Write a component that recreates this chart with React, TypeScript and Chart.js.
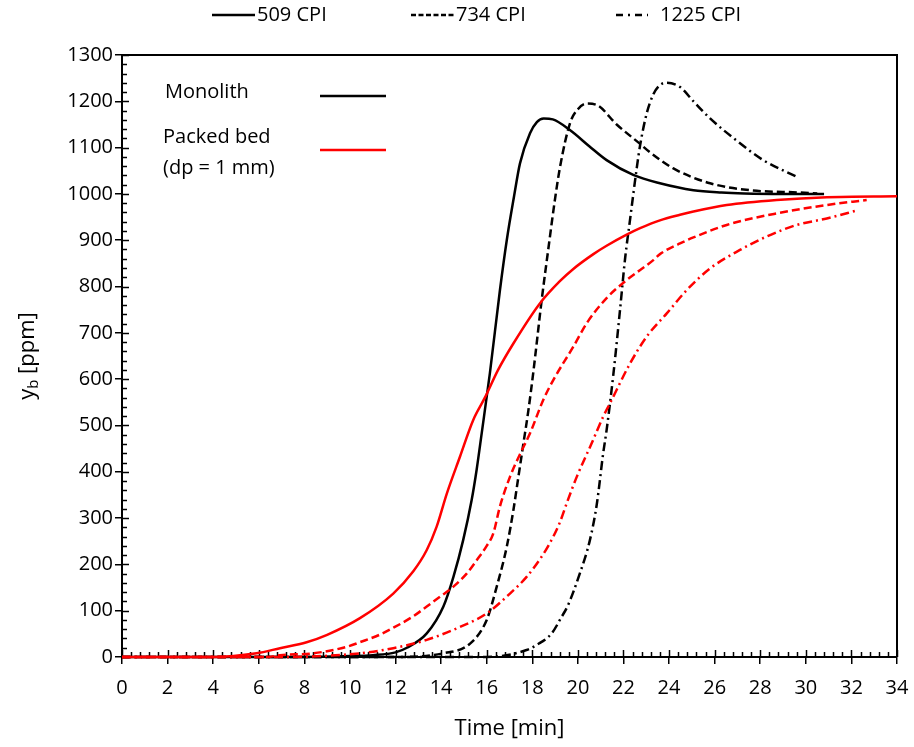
import React, { useEffect, useRef } from "react";
import { Chart, registerables } from "chart.js";

Chart.register(...registerables);

// ---- labels ----
const seriesLabels = ["509 CPI", "734 CPI", "1225 CPI"];
const bedLabels = ["Monolith", "Packed bed", "(dp = 1 mm)"];
const xTitle = "Time [min]";
const yTitleMain = "y";
const yTitleSub = "b";
const yTitleRest = " [ppm]";

// ---- axis ranges ----
const xMin = 0, xMax = 34, xStep = 2, xMinor = 0.4;
const yMin = 0, yMax = 1300, yStep = 100, yMinor = 20;

// ---- Monolith (black) ----
const mono509T = [0, 8, 10, 11, 12, 12.5, 13.37, 14.1, 14.54, 14.97, 15.34, 15.56, 15.78, 16.14, 16.58, 16.88, 17.2, 17.46, 17.9, 18.2, 18.5, 18.9, 19.65, 20.5, 21.26, 22.43, 23.6, 25.07, 26.3, 27.3, 29, 30.8];
const mono509Y = [0, 0, 2, 4, 10, 20, 51, 109, 173, 253, 339, 405, 483, 613, 792, 900, 995, 1066, 1131, 1155, 1163, 1161, 1138, 1103, 1073, 1041, 1023, 1008, 1003, 1001, 1000, 1000];

const mono734T = [0, 12, 14.1, 15.27, 16.0, 16.44, 16.88, 17.17, 17.39, 17.61, 17.83, 18.04, 18.41, 18.7, 19.0, 19.22, 19.65, 20.0, 20.39, 20.83, 21.7, 22.73, 23.16, 24.19, 25.8, 27.55, 29.75, 30.5];
const mono734Y = [0, 0, 8, 29, 80, 152, 238, 317, 389, 461, 533, 613, 770, 880, 990, 1059, 1152, 1183, 1195, 1192, 1150, 1108, 1090, 1055, 1023, 1008, 1003, 1001];

const mono1225T = [0, 16, 17.75, 18.19, 18.85, 19.29, 19.55, 20.09, 20.53, 20.83, 21.11, 21.26, 21.56, 21.85, 22.07, 22.29, 22.58, 22.73, 23.02, 23.31, 23.6, 23.9, 24.48, 25.07, 25.8, 26.97, 28.13, 29.6];
const mono1225Y = [0, 0, 15, 26, 51, 87, 110, 181, 253, 330, 440, 490, 612, 750, 860, 945, 1055, 1105, 1174, 1215, 1235, 1240, 1231, 1200, 1163, 1115, 1073, 1037];

// ---- Packed bed (red) ----
const bed509T = [0, 4, 5.9, 6.93, 8.1, 9.0, 10.44, 11.9, 12.78, 13.37, 13.8, 14.25, 14.83, 15.41, 15.92, 16.5, 17.17, 18.34, 19.22, 19.8, 20.68, 21.26, 22.14, 22.73, 23.6, 24.48, 25.07, 26.53, 28.72, 30.92, 34];
const bed509Y = [0, 0, 8, 19, 32, 48, 84, 137, 185, 231, 281, 353, 433, 512, 560, 620, 677, 764, 812, 838, 870, 888, 912, 926, 943, 955, 962, 976, 987, 993, 995];

const bed734T = [0, 6.35, 6.93, 8.4, 9.86, 10.44, 11.3, 11.9, 12.78, 13.37, 13.95, 14.54, 15.12, 15.56, 16.0, 16.29, 16.58, 17.02, 17.46, 17.9, 18.48, 18.92, 19.8, 20.39, 21.26, 22.14, 23.31, 23.6, 24.48, 25.07, 26.53, 28.72, 30.92, 32.67];
const bed734Y = [0, 0, 4, 8, 22, 32, 48, 63, 88, 109, 130, 152, 180, 209, 240, 267, 325, 389, 438, 483, 555, 598, 670, 721, 775, 814, 857, 870, 893, 906, 933, 958, 976, 987];

const bed1225T = [0, 7, 10.44, 11.9, 13.37, 14.83, 16.0, 17.02, 17.75, 18.48, 18.92, 19.22, 19.51, 19.95, 20.6, 21.11, 21.41, 22.29, 23.02, 23.9, 24.77, 25.8, 27.11, 28.28, 29.6, 30.92, 32.3];
const bed1225Y = [0, 0, 8, 19, 37, 65, 94, 137, 173, 222, 260, 292, 332, 389, 461, 519, 548, 634, 692, 742, 792, 839, 879, 908, 933, 947, 965];

const FONT = "'Open Sans', 'Noto Sans', sans-serif";
const BLACK = "#000000";
const RED = "#FF0000";
const DASH = [8, 4];
const DASHDOT = [9, 4, 2, 4];

function pts(t: number[], y: number[]) {
  return t.map((x, i) => ({ x, y: y[i] }));
}

export default function App() {
  const ref = useRef<HTMLCanvasElement>(null);

  useEffect(() => {
    if (!ref.current) return;

    const ds = (label: string, t: number[], y: number[], color: string, dash: number[]) => ({
      label,
      data: pts(t, y),
      borderColor: color,
      backgroundColor: color,
      borderWidth: 2.5,
      borderDash: dash,
      pointRadius: 0,
      fill: false,
      cubicInterpolationMode: "monotone" as const,
      clip: false as const,
    });

    const decor = {
      id: "decor",
      beforeDatasetsDraw(chart: any) {
        const { ctx, chartArea, scales } = chart;
        const { left, right, top, bottom } = chartArea;
        const x = scales.x, y = scales.y;
        ctx.save();
        ctx.strokeStyle = BLACK;
        ctx.lineWidth = 2;
        ctx.beginPath();
        ctx.moveTo(left, top);
        ctx.lineTo(right, top);
        ctx.lineTo(right, bottom);
        ctx.stroke();
        ctx.lineWidth = 1.5;
        const nY = Math.round((yMax - yMin) / yMinor);
        const perY = Math.round(yStep / yMinor);
        for (let i = 0; i <= nY; i++) {
          const p = Math.round(y.getPixelForValue(yMin + i * yMinor)) + 0.5;
          const major = i % perY === 0;
          ctx.beginPath();
          ctx.moveTo(left, p);
          ctx.lineTo(left + (major ? 7 : 5), p);
          ctx.stroke();
        }
        const nX = Math.round((xMax - xMin) / xMinor);
        const perX = Math.round(xStep / xMinor);
        for (let i = 0; i <= nX; i++) {
          const p = Math.round(x.getPixelForValue(xMin + i * xMinor)) + 0.5;
          const major = i % perX === 0;
          ctx.beginPath();
          ctx.moveTo(p, bottom);
          ctx.lineTo(p, bottom - (major ? 7 : 5));
          ctx.stroke();
        }
        ctx.restore();
      },
      afterDraw(chart: any) {
        const { ctx, chartArea } = chart;
        const { left, top } = chartArea;
        ctx.save();
        ctx.fillStyle = BLACK;
        ctx.textBaseline = "middle";
        ctx.textAlign = "left";

        const drawSeg = (x0: number, x1: number, yy: number, color: string, dash: number[]) => {
          ctx.save();
          ctx.strokeStyle = color;
          ctx.lineWidth = 2.5;
          ctx.setLineDash(dash);
          ctx.beginPath();
          ctx.moveTo(x0, yy);
          ctx.lineTo(x1, yy);
          ctx.stroke();
          ctx.restore();
        };
        ctx.font = `20px ${FONT}`;
        const legY = 15;
        const items = [
          { x0: 212, x1: 255, tx: 257, dash: [] as number[] },
          { x0: 411, x1: 454, tx: 456, dash: [5, 2.5] },
          { x0: 616, x1: 648, tx: 660, dash: [7, 5, 2, 5] },
        ];
        items.forEach((it, i) => {
          drawSeg(it.x0, it.x1, legY, BLACK, it.dash);
          ctx.fillText(seriesLabels[i], it.tx, legY);
        });

        // inner legend
        ctx.fillText(bedLabels[0], left + 43, top + 37);
        drawSeg(left + 198, left + 264, top + 41, BLACK, []);
        ctx.fillText(bedLabels[1], left + 41, top + 82);
        ctx.fillText(bedLabels[2], left + 41, top + 113);
        drawSeg(left + 198, left + 264, top + 95, RED, []);

        // y title with subscript
        ctx.translate(28, (chartArea.top + chartArea.bottom) / 2);
        ctx.rotate(-Math.PI / 2);
        const big = `22px ${FONT}`;
        const small = `15px ${FONT}`;
        ctx.font = big;
        const w1 = ctx.measureText(yTitleMain).width;
        const w3 = ctx.measureText(yTitleRest).width;
        ctx.font = small;
        const w2 = ctx.measureText(yTitleSub).width;
        const total = w1 + w2 + w3;
        let cx = -total / 2;
        ctx.font = big;
        ctx.fillText(yTitleMain, cx, 0);
        cx += w1;
        ctx.font = small;
        ctx.fillText(yTitleSub, cx, 6);
        cx += w2;
        ctx.font = big;
        ctx.fillText(yTitleRest, cx, 0);
        ctx.restore();
      },
    };

    const chart = new Chart(ref.current, {
      type: "line",
      data: {
        datasets: [
          ds("Packed bed " + seriesLabels[0], bed509T, bed509Y, RED, []),
          ds("Packed bed " + seriesLabels[1], bed734T, bed734Y, RED, DASH),
          ds("Packed bed " + seriesLabels[2], bed1225T, bed1225Y, RED, DASHDOT),
          ds("Monolith " + seriesLabels[0], mono509T, mono509Y, BLACK, []),
          ds("Monolith " + seriesLabels[1], mono734T, mono734Y, BLACK, DASH),
          ds("Monolith " + seriesLabels[2], mono1225T, mono1225Y, BLACK, DASHDOT),
        ],
      },
      options: {
        responsive: false,
        animation: false,
        devicePixelRatio: 1,
        layout: { padding: { top: 55, right: 17, left: 0, bottom: 0 } },
        plugins: { legend: { display: false }, tooltip: { enabled: false } },
        scales: {
          x: {
            type: "linear",
            min: xMin,
            max: xMax,
            ticks: {
              stepSize: xStep,
              font: { family: FONT, size: 20 },
              color: BLACK,
              padding: 12,
              maxRotation: 0,
              autoSkip: false,
              callback: (v: any) => String(v),
            },
            grid: { display: true, drawOnChartArea: false, drawTicks: true, tickLength: 7, color: BLACK, lineWidth: 1.5 },
            border: { display: true, color: BLACK, width: 2 },
            title: { display: true, text: xTitle, font: { family: FONT, size: 22 }, color: BLACK, padding: { top: 0, bottom: 5 } },
            afterFit: (s: any) => { s.height = 90; s.paddingLeft = 0; s.paddingRight = 0; },
          },
          y: {
            type: "linear",
            min: yMin,
            max: yMax,
            ticks: {
              stepSize: yStep,
              font: { family: FONT, size: 20 },
              color: BLACK,
              padding: 2,
              autoSkip: false,
              callback: (v: any) => String(v),
            },
            grid: { display: true, drawOnChartArea: false, drawTicks: true, tickLength: 7, color: BLACK, lineWidth: 1.5 },
            border: { display: true, color: BLACK, width: 2 },
            afterFit: (s: any) => { s.width = 122; s.paddingTop = 0; s.paddingBottom = 0; },
          },
        },
      },
      plugins: [decor],
    } as any);

    return () => chart.destroy();
  }, []);

  return (
    <div style={{ position: "absolute", left: 0, top: 0, width: 914, height: 747, background: "#fff" }}>
      <canvas ref={ref} width={914} height={747} style={{ display: "block" }} />
    </div>
  );
}
